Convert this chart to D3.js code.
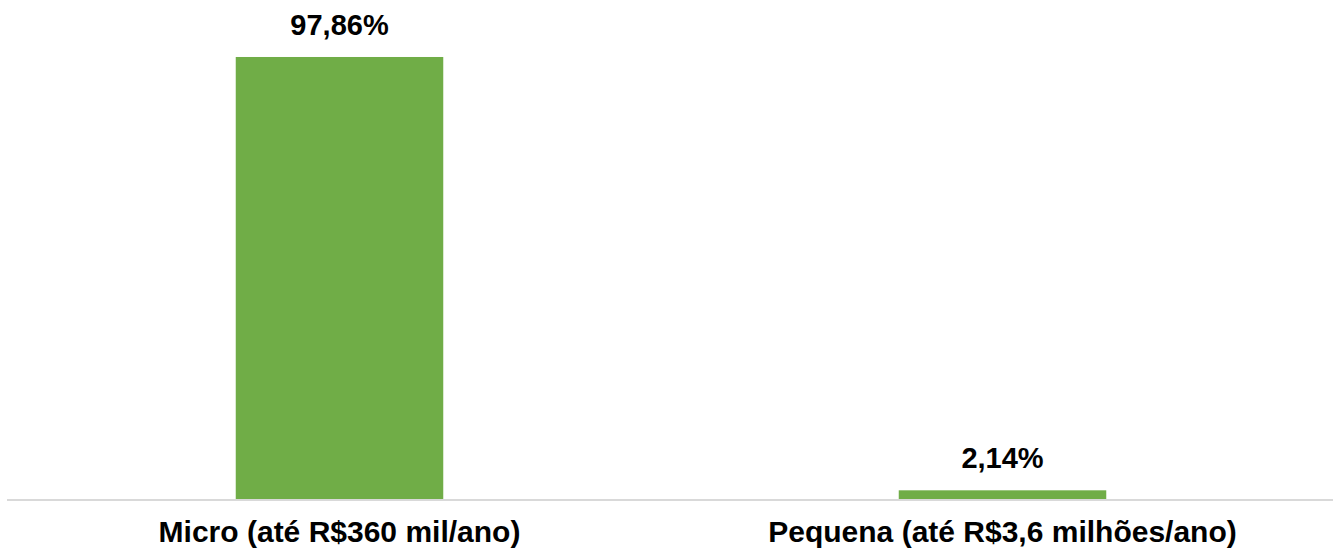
<!DOCTYPE html>
<html>
<head>
<meta charset="utf-8">
<script src="https://cdn.jsdelivr.net/npm/d3@7"></script>
<style>
  html, body { margin: 0; padding: 0; background: #ffffff; }
  svg { display: block; }
  text { font-family: "Liberation Sans", Arial, Helvetica, sans-serif; font-weight: bold; fill: #000; }
</style>
</head>
<body>
<svg id="chart" width="1336" height="554"></svg>
<script>
const categories = ["Micro (até R$360 mil/ano)", "Pequena (até R$3,6 milhões/ano)"];
const values = [97.86, 2.14];
const valueLabels = ["97,86%", "2,14%"];

const svg = d3.select("#chart");
const left = 7, right = 1333, baseline = 500;

const x = d3.scaleBand()
  .domain(categories)
  .range([left + 1, right + 1])
  .paddingInner(0.687)
  .paddingOuter(0.3435);

const y = d3.scaleLinear()
  .domain([0, 100])
  .range([baseline, baseline - 452.7]);

const data = categories.map((c, i) => ({ c, v: values[i], label: valueLabels[i] }));

svg.selectAll("rect.bar")
  .data(data)
  .enter().append("rect")
  .attr("class", "bar")
  .attr("x", d => x(d.c))
  .attr("width", x.bandwidth())
  .attr("y", d => y(d.v))
  .attr("height", d => y(0) - y(d.v))
  .attr("fill", "#70ad47");

const xAxis = d3.axisBottom(x).tickSize(0).tickPadding(21);
const gx = svg.append("g")
  .attr("transform", `translate(0,${baseline})`)
  .call(xAxis);
gx.select(".domain").attr("stroke", "#d9d9d9").attr("stroke-width", 2).attr("d", `M${left},0H${right}`);
gx.selectAll(".tick text")
  .attr("font-size", 30)
  .attr("font-family", "'Liberation Sans', Arial, sans-serif")
  .attr("font-weight", "bold")
  .attr("fill", "#000")
  .attr("dy", "0.71em");

svg.selectAll("text.val")
  .data(data)
  .enter().append("text")
  .attr("class", "val")
  .attr("x", d => x(d.c) + x.bandwidth() / 2)
  .attr("y", d => y(d.v) - 22)
  .attr("text-anchor", "middle")
  .attr("font-size", 29)
  .text(d => d.label);
</script>
</body>
</html>
